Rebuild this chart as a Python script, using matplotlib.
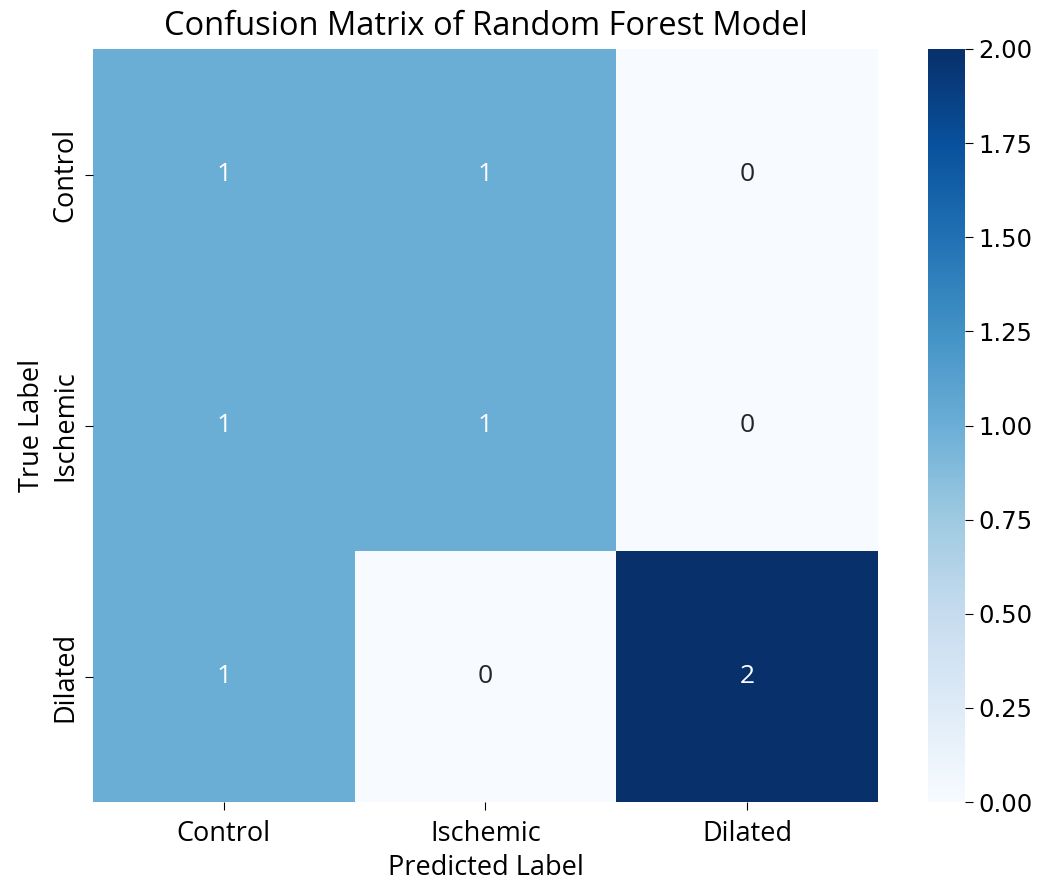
import numpy as np
import matplotlib
matplotlib.use("Agg")
import matplotlib.pyplot as plt
import seaborn as sns

classes = ["Control", "Ischemic", "Dilated"]
confusion = np.array([
    [1, 1, 0],
    [1, 1, 0],
    [1, 0, 2],
])

plt.rcParams['font.family'] = ['Open Sans', 'DejaVu Sans']

W, H = 1046, 883
fig = plt.figure(figsize=(W / 100, H / 100), dpi=100)
ax = fig.add_axes([93 / W, 1 - 802 / H, (878 - 93) / W, (802 - 49) / H])
cax = fig.add_axes([928 / W, 1 - 802 / H, (965 - 928) / W, (802 - 49) / H])

sns.heatmap(confusion, annot=True, fmt="d", cmap="Blues",
            xticklabels=classes, yticklabels=classes,
            ax=ax, cbar_ax=cax, annot_kws={"fontsize": 19})

ax.set_title("Confusion Matrix of Random Forest Model", fontsize=23.5, pad=10)
ax.set_xlabel("Predicted Label", fontsize=19.5, labelpad=4)
ax.set_ylabel("True Label", fontsize=19.5, labelpad=4)
ax.tick_params(axis="both", labelsize=19.5, length=6)
ax.tick_params(axis="x", pad=7)
ax.set_yticklabels(classes, rotation=90, va="center")
cax.tick_params(labelsize=17.5, length=6)
for lbl in cax.get_yticklabels():
    lbl.set_fontfamily("DejaVu Sans")

fig.savefig("out.png", dpi=100)
